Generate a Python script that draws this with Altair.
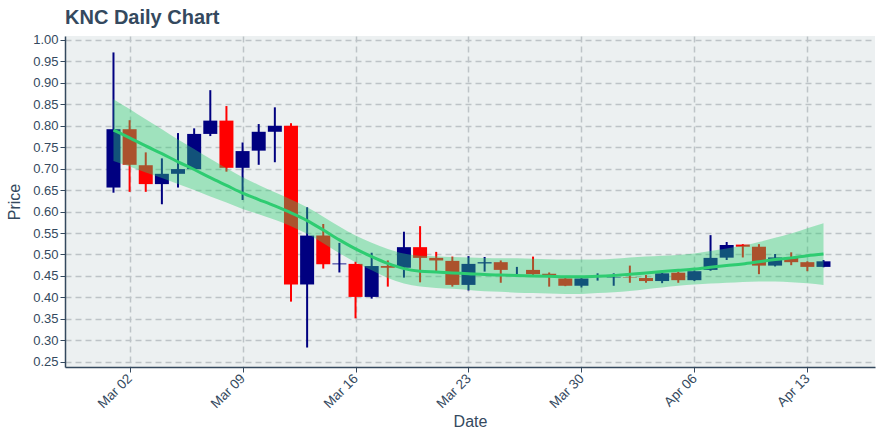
import altair as alt
import pandas as pd
import numpy as np

# ---- data ----
dates = pd.date_range("2020-03-01", periods=45, freq="D").strftime("%Y-%m-%d").tolist()

opens = [0.656, 0.792, 0.708, 0.664, 0.688, 0.699, 0.781, 0.812, 0.702, 0.742,
         0.786, 0.800, 0.430, 0.544, 0.477, 0.478, 0.401, 0.473, 0.469, 0.517,
         0.492, 0.485, 0.429, 0.479, 0.482, 0.462, 0.464, 0.455, 0.444, 0.427,
         0.447, 0.446, 0.447, 0.445, 0.438, 0.4575, 0.440, 0.464, 0.4925, 0.523,
         0.518, 0.474, 0.4925, 0.482, 0.471]
highs = [0.971, 0.813, 0.738, 0.724, 0.783, 0.794, 0.883, 0.846, 0.761, 0.804,
         0.843, 0.806, 0.610, 0.571, 0.527, 0.483, 0.504, 0.486, 0.553, 0.566,
         0.506, 0.495, 0.496, 0.494, 0.486, 0.471, 0.495, 0.458, 0.446, 0.446,
         0.456, 0.456, 0.474, 0.452, 0.458, 0.460, 0.463, 0.545, 0.529, 0.524,
         0.524, 0.501, 0.505, 0.484, 0.487]
lows = [0.644, 0.646, 0.646, 0.617, 0.656, 0.697, 0.776, 0.693, 0.627, 0.709,
        0.715, 0.390, 0.283, 0.467, 0.458, 0.351, 0.397, 0.425, 0.446, 0.435,
        0.461, 0.425, 0.416, 0.460, 0.434, 0.454, 0.452, 0.425, 0.426, 0.423,
        0.439, 0.427, 0.434, 0.434, 0.433, 0.434, 0.438, 0.462, 0.487, 0.493,
        0.454, 0.472, 0.475, 0.461, 0.470]
closes = [0.792, 0.709, 0.664, 0.688, 0.699, 0.781, 0.812, 0.702, 0.741, 0.786,
          0.800, 0.430, 0.544, 0.477, 0.479, 0.401, 0.473, 0.469, 0.517, 0.492,
          0.486, 0.429, 0.478, 0.482, 0.464, 0.462, 0.454, 0.452, 0.427, 0.444,
          0.447, 0.447, 0.446, 0.438, 0.456, 0.440, 0.461, 0.492, 0.522, 0.518,
          0.474, 0.493, 0.482, 0.471, 0.484]

trend = [0.790, 0.772, 0.753, 0.735, 0.716, 0.698, 0.679, 0.661, 0.643, 0.628,
         0.613, 0.597, 0.579, 0.557, 0.534, 0.513, 0.495, 0.479, 0.467, 0.461,
         0.459, 0.457, 0.455, 0.453, 0.452, 0.451, 0.450, 0.449, 0.448, 0.448,
         0.449, 0.451, 0.454, 0.457, 0.460, 0.463, 0.466, 0.470, 0.474, 0.478,
         0.483, 0.488, 0.492, 0.497, 0.501]
band_upper = [0.862, 0.839, 0.815, 0.792, 0.768, 0.746, 0.723, 0.701, 0.680, 0.662,
              0.645, 0.628, 0.610, 0.588, 0.565, 0.544, 0.527, 0.513, 0.502, 0.497,
              0.496, 0.494, 0.493, 0.492, 0.491, 0.491, 0.490, 0.489, 0.488, 0.488,
              0.488, 0.490, 0.493, 0.495, 0.497, 0.499, 0.502, 0.508, 0.514, 0.520,
              0.529, 0.539, 0.549, 0.561, 0.573]
band_lower = [0.718, 0.705, 0.691, 0.678, 0.664, 0.650, 0.635, 0.621, 0.606, 0.594,
              0.581, 0.566, 0.548, 0.526, 0.503, 0.482, 0.463, 0.445, 0.432, 0.425,
              0.422, 0.420, 0.417, 0.414, 0.413, 0.411, 0.410, 0.409, 0.408, 0.408,
              0.410, 0.412, 0.415, 0.419, 0.423, 0.427, 0.430, 0.432, 0.434, 0.436,
              0.437, 0.437, 0.435, 0.433, 0.429]

tick_dates = ["2020-03-02", "2020-03-09", "2020-03-16", "2020-03-23",
              "2020-03-30", "2020-04-06", "2020-04-13"]
y_ticks = [0.25, 0.30, 0.35, 0.40, 0.45, 0.50, 0.55, 0.60, 0.65, 0.70,
           0.75, 0.80, 0.85, 0.90, 0.95, 1.00]


def ms(s):
    return int(pd.Timestamp(s, tz="UTC").timestamp() * 1000)


df = pd.DataFrame({
    "date": dates, "open": opens, "high": highs, "low": lows, "close": closes,
    "trend": trend, "upper": band_upper, "lower": band_lower,
})
df["dir"] = np.where(df["close"] >= df["open"], "up", "down")

TEXT = "#34495E"
FONT = "Liberation Sans"

x_enc = alt.X(
    "date:T",
    scale=alt.Scale(type="utc", domain=[ms("2020-02-27T07:20"), ms("2020-04-16T21:10")]),
    axis=alt.Axis(
        values=[ms(d) for d in tick_dates],
        labelExpr="utcFormat(datum.value, '%b %d')",
        labelAngle=-45,
        labelAlign="right",
        labelBaseline="middle",
        labelPadding=4,
        labelFontSize=13.5,
        title="Date",
        titlePadding=3,
        grid=True,
    ),
)
y_scale = alt.Scale(domain=[0.2376, 1.0093], nice=False, zero=False)
y_axis = alt.Axis(values=y_ticks, format=".2f", title="Price", grid=True, titlePadding=10)

color_enc = alt.Color(
    "dir:N",
    scale=alt.Scale(domain=["up", "down"], range=["#000080", "#FF0000"]),
    legend=None,
)

base = alt.Chart(df)

wicks = base.mark_rule(strokeWidth=2).encode(
    x=x_enc, y=alt.Y("low:Q", scale=y_scale, axis=y_axis), y2="high:Q", color=color_enc
)
bodies = base.mark_bar(size=14).encode(
    x=x_enc, y=alt.Y("open:Q", scale=y_scale, axis=y_axis), y2="close:Q", color=color_enc
)
band = base.mark_area(color="#2ECC71", opacity=0.4, interpolate="monotone").encode(
    x=x_enc, y=alt.Y("upper:Q", scale=y_scale, axis=y_axis), y2="lower:Q"
)
line = base.mark_line(color="#2ECC71", strokeWidth=3, interpolate="monotone").encode(
    x=x_enc, y=alt.Y("trend:Q", scale=y_scale, axis=y_axis)
)

chart = (
    alt.layer(wicks, bodies, band, line)
    .properties(
        width=810,
        height=331,
        autosize=alt.AutoSizeParams(type="none"),
        padding={"left": 65, "top": 36, "right": 5, "bottom": 73},
        background="white",
        title=alt.TitleParams(
            "KNC Daily Chart",
            anchor="start",
            frame="group",
            fontSize=20,
            fontWeight="bold",
            font=FONT,
            color=TEXT,
            baseline="alphabetic",
            offset=12,
            dy=22,
        ),
    )
    .configure_view(fill="#ECF0F1", stroke=None)
    .configure_axis(
        labelFont=FONT,
        titleFont=FONT,
        labelFontSize=13,
        titleFontSize=16,
        titleFontWeight="normal",
        labelColor=TEXT,
        titleColor=TEXT,
        gridColor="#BDC3C7",
        gridDash=[6, 4],
        gridWidth=1.5,
        domainColor=TEXT,
        domainWidth=1.5,
        tickColor=TEXT,
        tickSize=5,
        labelPadding=2,
    )
)

chart.save("out.html", embed_options={"renderer": "svg", "actions": False})
